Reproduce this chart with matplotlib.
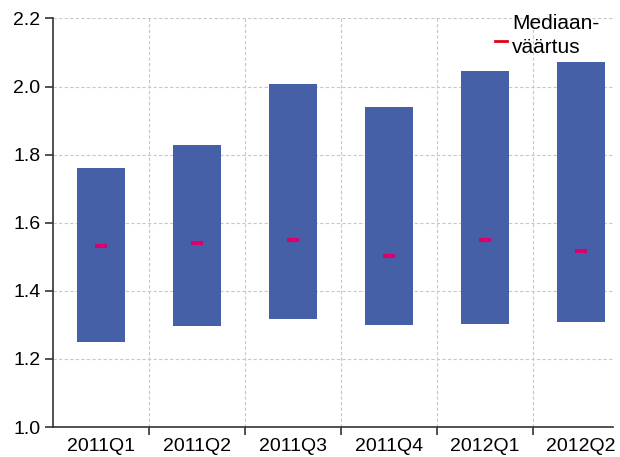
import matplotlib
matplotlib.use("Agg")
import matplotlib.pyplot as plt
from matplotlib.lines import Line2D

# data
quarters = ["2011Q1", "2011Q2", "2011Q3", "2011Q4", "2012Q1", "2012Q2"]
lows = [1.251, 1.297, 1.316, 1.300, 1.303, 1.307]
highs = [1.761, 1.829, 2.008, 1.940, 2.045, 2.071]
medians = [1.531, 1.540, 1.550, 1.502, 1.549, 1.518]

plt.rcParams['font.family'] = ['Liberation Sans', 'DejaVu Sans']

fig = plt.figure(figsize=(6.2, 4.57), dpi=100)
ax = fig.add_axes([0.0855, 0.0656, 0.903, 0.894])

x = list(range(len(quarters)))
heights = [h - l for h, l in zip(highs, lows)]
ax.bar(x, heights, bottom=lows, width=0.5, color="#4660a8", zorder=2)
ax.hlines(medians, [i - 0.065 for i in x], [i + 0.065 for i in x],
          color="#d8006f", linewidth=3, zorder=3)

ax.set_xlim(-0.5, 5.333)
ax.set_ylim(1.0, 2.2)
ax.set_yticks([1.0, 1.2, 1.4, 1.6, 1.8, 2.0, 2.2])
ax.set_yticklabels(["1.0", "1.2", "1.4", "1.6", "1.8", "2.0", "2.2"])

# category labels at bar centres, ticks/grid between categories
ax.set_xticks(x)
ax.set_xticklabels(quarters)
ax.set_xticks([i + 0.5 for i in x[:-1]], minor=True)
ax.tick_params(axis="x", which="major", length=0, pad=8, labelsize=14)
ax.tick_params(axis="x", which="minor", length=6, width=1.2, color="#333333")
ax.tick_params(axis="y", length=6, width=1.2, color="#333333", labelsize=14, pad=3)

ax.grid(True, axis="y", which="major", linestyle=(0, (3, 2)), color="#c8c8c8", linewidth=0.8, zorder=0)
ax.grid(True, axis="x", which="minor", linestyle=(0, (3, 2)), color="#c8c8c8", linewidth=0.8, zorder=0)
ax.set_axisbelow(True)

for s in ["top", "right"]:
    ax.spines[s].set_visible(False)
for s in ["left", "bottom"]:
    ax.spines[s].set_color("#333333")
    ax.spines[s].set_linewidth(1.2)

# legend: red key beside the second line of the label
fig.text(0.826, 0.9365, "Mediaan-", fontsize=15, va="baseline", ha="left")
fig.text(0.826, 0.884, "väärtus", fontsize=15, va="baseline", ha="left")
fig.add_artist(Line2D([0.798, 0.818], [0.911, 0.911], color="#e2001a", linewidth=2,
                      transform=fig.transFigure))

fig.savefig("out.png", dpi=100)
